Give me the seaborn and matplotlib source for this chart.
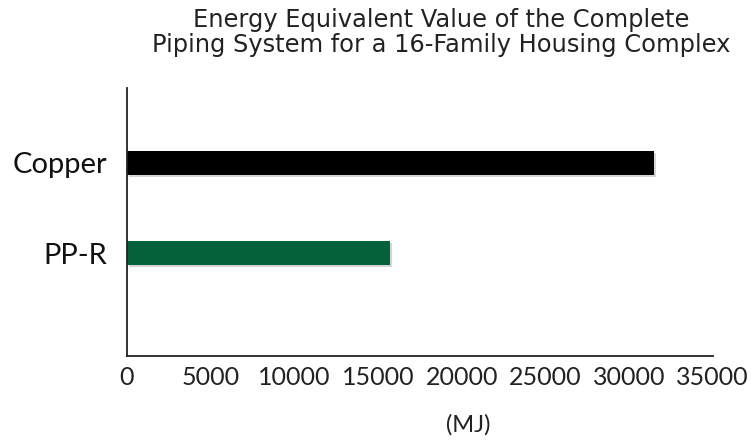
import matplotlib
matplotlib.use("Agg")
import matplotlib.pyplot as plt
import matplotlib.patheffects as pe
import seaborn as sns
import pandas as pd

materials = ["Copper", "PP-R"]
energy_mj = [31500, 15700]
bar_colors = ["#000000", "#03623A"]
x_ticks = [0, 5000, 10000, 15000, 20000, 25000, 30000, 35000]

sns.set_theme(style="white")
plt.rcParams["font.family"] = ["Lato", "DejaVu Sans"]

df = pd.DataFrame({"material": materials, "energy": energy_mj})

fig = plt.figure(figsize=(7.51, 4.44), dpi=100)
ax = fig.add_axes([0.169, 0.198, 0.780, 0.604])

sns.barplot(data=df, x="energy", y="material", hue="material",
            palette=bar_colors, width=0.26, legend=False, ax=ax,
            saturation=1, linewidth=0)

# soft drop shadow under each bar
for patch in ax.patches:
    patch.set_path_effects([
        pe.SimplePatchShadow(offset=(1.5, -1.5), shadow_rgbFace="#888888", alpha=0.35),
        pe.Normal(),
    ])

ax.set_xlim(0, 35000)
ax.set_ylim(2.14, -0.83)
ax.set_xticks(x_ticks)
ax.set_xticklabels([str(t) for t in x_ticks], fontsize=18, color="#222222")
ax.tick_params(axis="x", direction="in", length=8, width=1.2, color="#222222", pad=7)
ax.tick_params(axis="y", length=0, labelsize=21, pad=14, labelcolor="#111111")
ax.set_ylabel("")
ax.set_xlabel("(MJ)", fontsize=17, color="#222222", va="center")
ax.xaxis.set_label_coords(0.582, -0.257)

for side in ["top", "right"]:
    ax.spines[side].set_visible(False)
for side in ["left", "bottom"]:
    ax.spines[side].set_color("#222222")
    ax.spines[side].set_linewidth(1.3)

fig.text(0.588, 0.982, "Energy Equivalent Value of the Complete\nPiping System for a 16-Family Housing Complex",
         ha="center", va="top", fontsize=17.4, color="#222222", linespacing=1.03,
         family=["DejaVu Sans"])

fig.savefig("out.png", dpi=100)
